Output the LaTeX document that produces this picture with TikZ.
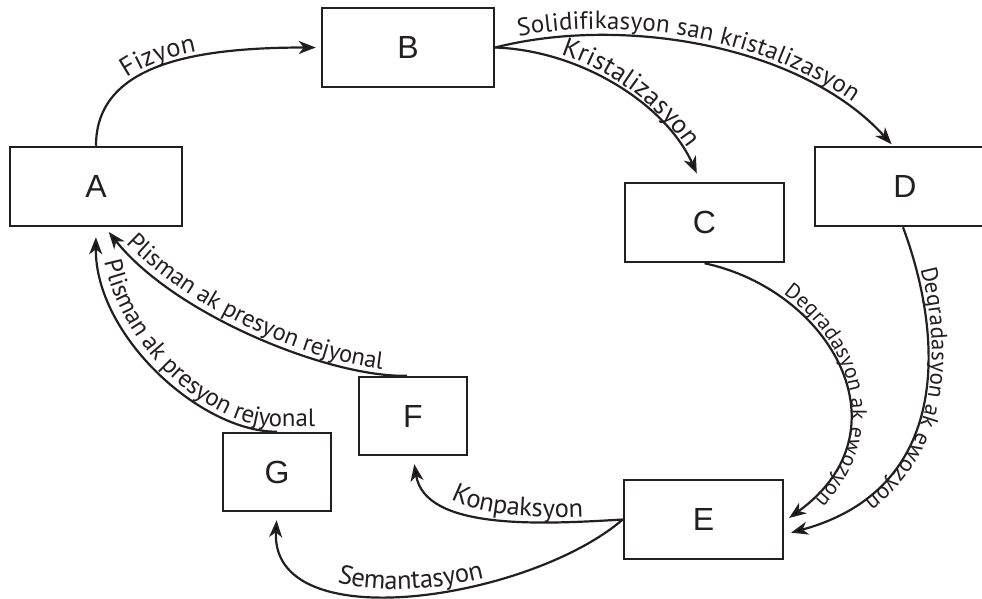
\documentclass[tikz,border=0pt]{standalone}
\usepackage{fontspec}
\setmainfont{Liberation Sans}
\newfontfamily\lblfont{PT Sans}
\usetikzlibrary{arrows.meta,decorations.text}
\definecolor{ink}{RGB}{35,31,32}
\tikzset{
  box/.style={draw=ink, line width=2.5pt, minimum height=79pt, inner sep=0pt,
    font=\fontsize{32}{36}\selectfont, text=ink},
  conn/.style={draw=ink, line width=2.2pt, -{Stealth[length=17pt,width=13pt,inset=5pt]}},
  lbl/.style n args={4}{decorate, decoration={text along path,
    text={|\lblfont\fontsize{#1}{30}\selectfont|#2},
    raise=#3, text align={left indent=#4}, text color=ink}}
}
\begin{document}
\begin{tikzpicture}[x=1pt,y=-1pt]
\useasboundingbox (0,0) rectangle (982,598);
\node[box, minimum width=172pt] (A) at (96,186.5) {A};
\node[box, minimum width=172pt] (B) at (408,47.5) {B};
\node[box, minimum width=159pt] (C) at (704.5,222.5) {C};
\node[box, minimum width=180pt] (D) at (905,186.5) {D};
\node[box, minimum width=159pt] (E) at (703.5,519.5) {E};
\node[box, minimum width=108pt, minimum height=78pt] (F) at (413,416) {F};
\node[box, minimum width=108pt, minimum height=78pt] (G) at (277,472) {G};

% A -> B
\draw[conn, shorten >=5pt] (A.north) .. controls +(0,-80) and +(-130,0) .. (B.west);
\path[lbl={26.5}{Fizyon}{5pt}{75pt}] (A.north) .. controls +(0,-80) and +(-130,0) .. (B.west);

% B -> D
\draw[conn, shorten >=2pt] (B.east) .. controls +(125,-32) and +(-93,-102) .. ([xshift=-12pt]D.north);
\path[lbl={25}{Solidifikasyon san kristalizasyon}{6pt}{25pt}] (B.east) .. controls +(125,-32) and +(-93,-102) .. ([xshift=-12pt]D.north);

% B -> C
\draw[conn, shorten >=9pt] (B.east) .. controls +(85,3) and +(-35,-78) .. ([xshift=-4pt]C.north);
\path[lbl={26.5}{Kristalizasyon}{5pt}{65pt}] (B.east) .. controls +(85,3) and +(-35,-78) .. ([xshift=-4pt]C.north);

% C -> E
\draw[conn, shorten >=6pt] (C.south) .. controls +(126,27) and +(126,-91) .. ([yshift=-2pt]E.east);
\path[lbl={21.5}{Degradasyon ak ewozyon}{4pt}{84pt}] (C.south) .. controls +(126,27) and +(126,-91) .. ([yshift=-2pt]E.east) -- +(-40,29);

% D -> E
\draw[conn, shorten >=7pt] ([xshift=-2pt]D.south) .. controls +(42,113) and +(166,-45) .. ([yshift=-15pt]E.east);
\path[lbl={23}{Degradasyon ak ewozyon}{4pt}{45pt}] ([xshift=-2pt]D.south) .. controls +(42,113) and +(166,-45) .. ([yshift=-15pt]E.east) -- +(-40,11);

% E -> F
\draw[conn, shorten >=8pt] (E.west) .. controls +(-83,5) and +(12,74) .. (F.south);
\path[lbl={26.5}{Konpaksyon}{5pt}{62pt}] (F.south) .. controls +(12,74) and +(-83,5) .. (E.west) -- +(40,0);

% E -> G
\draw[conn, shorten >=8pt] (E.west) .. controls +(-93,80) and +(-7,128) .. (G.south);
\path[lbl={26.5}{Semantasyon}{5pt}{104pt}] (G.south) .. controls +(-7,128) and +(-93,80) .. (E.west) -- +(40,-34);

% F -> A
\draw[conn, shorten >=6pt] ([xshift=-6pt]F.north) .. controls +(-77,2) and +(70,88) .. ([xshift=9pt]A.south);
\path[lbl={24.5}{Plisman ak presyon rejyonal}{5pt}{26pt}] ([xshift=9pt]A.south) .. controls +(70,88) and +(-77,2) .. ([xshift=-6pt]F.north) -- +(60,0);

% G -> A
\draw[conn, shorten >=10pt] (G.north) .. controls +(-77,0) and +(-1,108) .. (A.south);
\path[lbl={25}{Plisman ak presyon rejyonal}{5pt}{36pt}] (A.south) .. controls +(-1,108) and +(-77,0) .. (G.north) -- +(80,0);
\end{tikzpicture}
\end{document}
